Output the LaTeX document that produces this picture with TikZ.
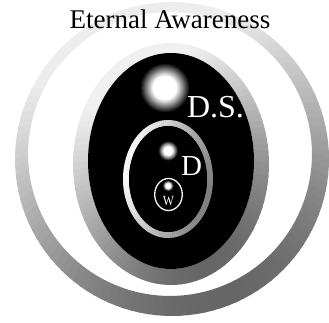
\documentclass[tikz,border=0pt]{standalone}
\usepackage{fontspec}
\setmainfont{Liberation Serif}
\newcommand\ringouter[4]{\def\ocx{#1}\def\ocy{#2}\def\orx{#3}\def\ory{#4}}
\newcommand\ringinner[4]{\def\icx{#1}\def\icy{#2}\def\irx{#3}\def\iry{#4}}
\newcommand\ringlight[4]{\def\ld{#1}\def\lmin{#2}\def\lspan{#3}\def\lmax{#4}}
\newcommand\drawgradring{%
  \foreach \angA in {0,3,...,357}{%
    \pgfmathsetmacro\angB{\angA+3.4}%
    \pgfmathsetmacro\lv{min(\lmax,\lmin+\lspan*(1+cos(\angA+1.5-\ld))/2)}%
    \fill[white!\lv!black]
      ({\ocx+\orx*cos(\angA)},{\ocy-\ory*sin(\angA)}) --
      ({\ocx+\orx*cos(\angB)},{\ocy-\ory*sin(\angB)}) --
      ({\icx+\irx*cos(\angB)},{\icy-\iry*sin(\angB)}) --
      ({\icx+\irx*cos(\angA)},{\icy-\iry*sin(\angA)}) -- cycle;
  }}
\newcommand\glowdot[4]{% cx, cy, core radius, outer radius
  \foreach \gi in {0,...,30}{%
    \pgfmathsetmacro\gr{#4-\gi*(#4-#3)/30}%
    \pgfmathsetmacro\glv{100*\gi/30}%
    \fill[white!\glv!black] (#1,#2) circle (\gr pt);
  }}
\begin{document}
\begin{tikzpicture}[x=1pt,y=-1pt,
  lbl/.style={inner sep=0pt, outer sep=0pt, text=white}]
\useasboundingbox (0,0) rectangle (329,322);
\fill[white] (0,0) rectangle (329,322);
% outer ring
\ringouter{172}{159}{157}{157}
\ringinner{170}{154}{142}{142}
\ringlight{110}{40}{60}{93}
\drawgradring
% border of the black ellipse
\ringouter{171}{164}{98}{121}
\ringinner{171}{161}{83}{108}
\ringlight{115}{40}{60}{94}
\drawgradring
\fill[black] (171,161) ellipse [x radius=83pt, y radius=108pt];
% D ring
\ringouter{168}{179}{45}{59}
\ringinner{168}{179}{39}{53}
\ringlight{160}{50}{48}{97}
\drawgradring
\fill[black] (168,179) ellipse [x radius=39pt, y radius=53pt];
% W ellipse
\draw[white!92!gray, line width=1.3pt] (168.5,194.5) ellipse [x radius=13.8pt, y radius=16pt];
% glows
\glowdot{165}{88}{12}{25}
\glowdot{168.3}{151}{4.5}{10}
\glowdot{168.3}{186}{2.5}{5.5}
% labels
\node[inner sep=0pt, anchor=base, font=\fontsize{27}{27}\selectfont] (title) at (170,28) {Eternal Awareness};
\node[lbl, anchor=base west, font=\fontsize{32}{32}\selectfont] (ds) at (187,117) {D.S.};
\node[lbl, anchor=base west, font=\fontsize{29}{29}\selectfont] (d) at (181,175) {D};
\node[lbl, anchor=base, font=\fontsize{14}{14}\selectfont] (w) at (168.5,205) {\scalebox{0.85}[1]{W}};
\end{tikzpicture}
\end{document}
